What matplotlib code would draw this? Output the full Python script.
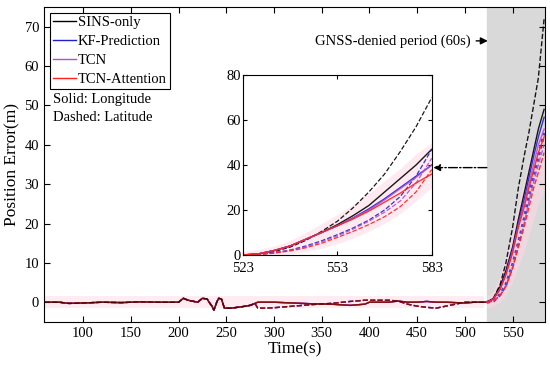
import numpy as np
import matplotlib.pyplot as plt

plt.rcParams['font.family'] = ['Liberation Serif', 'DejaVu Serif']

# time before the GNSS outage (all methods identical here)
t_pre = [60, 75, 85, 100, 120, 140, 160, 180, 200, 205, 210, 220, 225, 230, 232, 235, 237,
         240, 242, 245, 248, 255, 265, 275, 280, 283, 290, 300, 320, 340, 360, 380, 395,
         400, 420, 430, 440, 450, 460, 470, 480, 490, 500, 510, 520]
lon_pre = [0, 0, -0.3, -0.2, 0, -0.1, 0.1, 0, 0, 1.0, 0.5, 0, 1.0, 0.8, 0, -1.0, -2.0,
           0, 1.0, 0.8, -1.5, -1.5, -1.2, -0.8, -0.3, 0, 0, 0, -0.2, -0.4, -0.5, -0.8, -0.5,
           0, 0, 0.3, 0, 0, 0.2, 0, 0, -0.1, -0.2, 0, 0]
lat_pre = [0, 0, -0.3, -0.2, 0, -0.1, 0.1, 0, 0, 1.0, 0.5, 0, 1.0, 0.8, 0, -1.0, -2.0,
           0, 1.0, 0.8, -1.5, -1.5, -1.2, -0.8, -0.3, -1.5, -1.5, -1.4, -1.0, -0.6, -0.3, 0.2, 0.5,
           0.5, 0.5, 0.3, -0.5, -1.0, -1.3, -1.5, -1.0, -0.5, 0, 0, 0]

# GNSS-denied period as seen in the main axes
t_main = [523, 530, 537, 543, 550, 556, 562, 567, 572, 577, 583]
m_sins_lon = [0, 1, 4, 8, 14, 21, 27.5, 33, 38.5, 44, 49]
m_sins_lat = [0, 1, 4.5, 10, 19, 29, 37, 43, 50, 57, 72]
m_kf_lon = [0, 0.8, 3.5, 7.5, 13.5, 20, 26, 31.5, 37, 42, 47]
m_kf_lat = [0, 0.3, 2, 4.5, 9.5, 15, 21, 27, 32, 37, 43]
m_tcn_lon = [0, 0.8, 3.5, 7, 13, 19.5, 25, 30, 35, 40, 44]
m_tcn_lat = [0, 0.3, 1.8, 4.3, 9, 14.5, 20, 25.5, 30.5, 35, 40]
m_att_lon = [0, 0.8, 3.3, 7, 12.5, 19, 24, 29, 33.5, 38, 42]
m_att_lat = [0, 0.3, 1.7, 4, 8.5, 14, 19, 24, 29, 33, 38]
m_band_up = [1.5, 3, 7, 12, 18, 25, 31, 36, 40, 43, 45]
m_band_lo = [-1.5, -1, 0, 2, 5, 9, 13, 17, 21, 25, 28]

# GNSS-denied period 523-583 s (zoomed inset)
t_out = [523, 528, 533, 538, 543, 548, 553, 558, 563, 568, 573, 578, 583]
sins_lon = [0, 0.5, 2.0, 4.0, 7.0, 10.0, 13.5, 17.5, 22.0, 28.0, 34.0, 40.0, 47.0]
sins_lat = [0, 0.3, 1.5, 3.5, 6.5, 10.5, 15.0, 21.0, 28.0, 36.0, 46.0, 57.0, 70.0]
kf_lon = [0, 0.5, 2.0, 4.0, 7.0, 10.0, 13.0, 16.5, 20.5, 25.0, 30.0, 35.0, 40.0]
kf_lat = [0, 0.2, 1.0, 2.2, 4.0, 6.3, 9.0, 12.0, 15.5, 20.0, 26.0, 35.0, 47.0]
tcn_lon = [0, 0.5, 2.0, 4.0, 7.0, 10.0, 13.0, 16.5, 20.0, 24.5, 29.5, 34.5, 40.0]
tcn_lat = [0, 0.2, 0.9, 2.0, 3.6, 5.8, 8.5, 11.5, 15.0, 19.0, 24.0, 32.0, 43.0]
att_lon = [0, 0.5, 2.0, 4.0, 7.0, 10.0, 13.0, 16.0, 19.5, 23.5, 27.5, 32.0, 36.0]
att_lat = [0, 0.2, 0.8, 1.8, 3.2, 5.2, 7.8, 10.5, 13.5, 17.0, 21.5, 28.0, 38.0]
band_up = [1.5, 2.5, 4.0, 6.5, 10.0, 14.0, 18.0, 22.5, 27.5, 33.0, 38.5, 45.0, 50.0]
band_lo = [-1.5, -1.0, -0.5, 0.5, 1.5, 3.0, 5.0, 7.5, 10.5, 14.0, 18.5, 24.0, 30.0]

names = ['SINS-only', 'KF-Prediction', 'TCN', 'TCN-Attention']
colors = ['black', '#1f1fd0', '#b04fd0', '#ff2020']
main_lon = [m_sins_lon, m_kf_lon, m_tcn_lon, m_att_lon]
main_lat = [m_sins_lat, m_kf_lat, m_tcn_lat, m_att_lat]
lon_out = [sins_lon, kf_lon, tcn_lon, att_lon]
lat_out = [sins_lat, kf_lat, tcn_lat, att_lat]

fig = plt.figure(figsize=(5.5, 3.7), dpi=100)
ax = fig.add_axes([0.08, 0.13, 0.911, 0.851])

ax.axvspan(523, 590, color='#d9d9d9', zorder=0)
ax.fill_between(t_pre, -1.5, 1.5, color='#ffd6e6', alpha=0.45, lw=0, zorder=1)
ax.fill_between(t_main, m_band_lo, m_band_up, color='#ffd6e6', alpha=0.6, lw=0, zorder=1)

# before the outage all curves overlap: black drawn last, half transparent
t_before = t_pre + [523]
for i in [1, 2, 3, 0]:
    a = 0.5 if i == 0 else 1.0
    ax.plot(t_before, lon_pre + [0], '-', color=colors[i], lw=1.0, alpha=a)
    ax.plot(t_before, lat_pre + [0], '--', color=colors[i], lw=1.0, alpha=a)

for name, c, lo, la in zip(names, colors, main_lon, main_lat):
    ax.plot(t_main, lo, '-', color=c, lw=1.0, alpha=0.9)
    if name == 'KF-Prediction':
        ax.plot(t_main, la, color=c, lw=2.2, ls=(0, (1, 1.2)), alpha=0.8)
    else:
        ax.plot(t_main, la, '--', color=c, lw=1.0, alpha=0.9)
    ax.plot([], [], '-', color=c, lw=1.0, label=name)

ax.set_xlim(59, 584)
ax.set_ylim(-5, 75)
ax.set_xticks(range(100, 551, 50))
ax.set_yticks(range(0, 71, 10))
ax.tick_params(direction='in', top=True, right=True, labelsize=10.5, length=4)
ax.set_xlabel('Time(s)', fontsize=12.5, labelpad=1)
ax.set_ylabel('Position Error(m)', fontsize=12.5, labelpad=3)

leg = ax.legend(loc='upper left', fontsize=10.5, handlelength=1.6, handletextpad=0.1,
                borderpad=0.2, labelspacing=0.38, fancybox=False, edgecolor='black',
                framealpha=1, borderaxespad=0, bbox_to_anchor=(0.012, 0.98))
leg.get_frame().set_linewidth(0.8)
ax.text(0.018, 0.705, 'Solid: Longitude', transform=ax.transAxes, fontsize=10.5,
        va='center')
ax.text(0.018, 0.648, 'Dashed: Latitude', transform=ax.transAxes, fontsize=10.5,
        va='center')

ax.annotate('GNSS-denied period (60s)', xy=(524, 66.4), xytext=(506, 66.4),
            fontsize=10.5, ha='right', va='center',
            arrowprops=dict(arrowstyle='-|>', color='black', lw=1, shrinkA=2, shrinkB=0))
ax.annotate('', xy=(467, 34.2), xytext=(523, 34.2),
            arrowprops=dict(arrowstyle='-|>', color='black', lw=1, linestyle='-.',
                            shrinkA=0, shrinkB=0))

ins = fig.add_axes([0.442, 0.311, 0.343, 0.486])
ins.fill_between(t_out, band_lo, band_up, color='#ffd6e6', alpha=0.5, lw=0)
for c, lo, la in zip(colors, lon_out, lat_out):
    ins.plot(t_out, lo, '-', color=c, lw=1.0, alpha=0.9)
    ins.plot(t_out, la, '--', color=c, lw=0.9, alpha=0.9)
ins.set_xlim(523, 583)
ins.set_ylim(0, 80)
ins.set_xticks([523, 553, 583])
ins.set_yticks([0, 20, 40, 60, 80])
ins.tick_params(direction='in', top=True, right=True, labelsize=10.5, length=3, pad=1.5)
ins.tick_params(axis='x', pad=5)

fig.savefig('out.png', dpi=100)
